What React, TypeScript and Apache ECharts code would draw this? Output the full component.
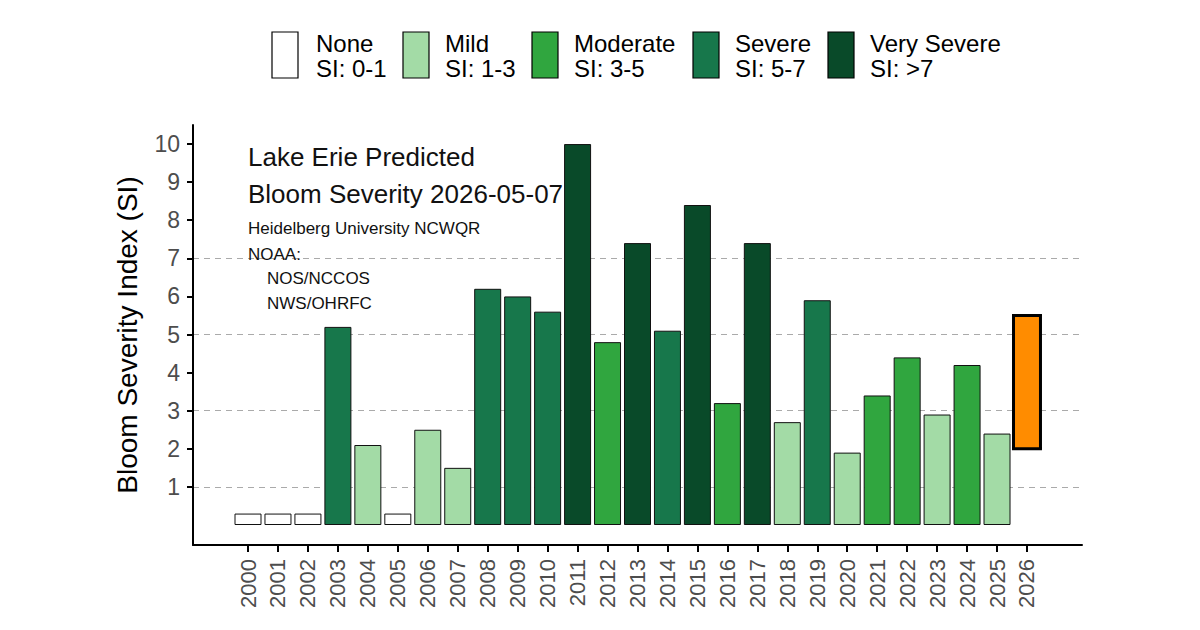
import React, { useEffect, useRef } from "react";
import * as echarts from "echarts";

const years = [2000, 2001, 2002, 2003, 2004, 2005, 2006, 2007, 2008, 2009, 2010, 2011, 2012, 2013, 2014, 2015, 2016, 2017, 2018, 2019, 2020, 2021, 2022, 2023, 2024, 2025];
const severity = [0.3, 0.3, 0.3, 5.2, 2.1, 0.3, 2.5, 1.5, 6.2, 6.0, 5.6, 10.0, 4.8, 7.4, 5.1, 8.4, 3.2, 7.4, 2.7, 5.9, 1.9, 3.4, 4.4, 2.9, 4.2, 2.4];
const forecastYear = 2026;
const forecastRange = [2.0, 5.5];
const tickYears = [...years, forecastYear];
const yTicks = [1, 2, 3, 4, 5, 6, 7, 8, 9, 10];
const dashedLevels = [1, 3, 5, 7];

const classNames = ["None", "Mild", "Moderate", "Severe", "Very Severe"];
const classRanges = ["SI: 0-1", "SI: 1-3", "SI: 3-5", "SI: 5-7", "SI: >7"];
const classUpper = [1, 3, 5, 7, Infinity];
const classColors = ["#ffffff", "#a3dba6", "#30a63f", "#17774b", "#094a29"];
const forecastColor = "#ff8c00";

const FONT = "'Liberation Sans', Arial, sans-serif";

function classOf(v: number) {
  for (let i = 0; i < classUpper.length; i++) if (v < classUpper[i]) return i;
  return classUpper.length - 1;
}

export default function App() {
  const ref = useRef<HTMLDivElement>(null);
  useEffect(() => {
    if (!ref.current) return;
    const chart = echarts.init(ref.current, undefined, { renderer: "svg" });

    const legendBoxX = [272, 403, 532, 693, 828];
    const legendTextX = [316, 445, 574, 735, 870];
    const legendGraphics: any[] = [];
    classNames.forEach((n, i) => {
      legendGraphics.push({
        type: "rect",
        shape: { x: legendBoxX[i], y: 32, width: 26, height: 46 },
        style: { fill: classColors[i], stroke: "#000", lineWidth: 1.2 },
      });
      legendGraphics.push({
        type: "text",
        x: legendTextX[i],
        y: 43,
        style: { text: n, font: `24px ${FONT}`, fill: "#000", textVerticalAlign: "middle" },
      });
      legendGraphics.push({
        type: "text",
        x: legendTextX[i],
        y: 68,
        style: { text: classRanges[i], font: `24px ${FONT}`, fill: "#000", textVerticalAlign: "middle" },
      });
    });

    const annotations = [
      { t: "Lake Erie Predicted", x: 248, y: 157, s: 26 },
      { t: "Bloom Severity 2026-05-07", x: 248, y: 194, s: 26 },
      { t: "Heidelberg University NCWQR", x: 248, y: 228, s: 17 },
      { t: "NOAA:", x: 248, y: 254, s: 17 },
      { t: "NOS/NCCOS", x: 267, y: 278, s: 17 },
      { t: "NWS/OHRFC", x: 267, y: 303, s: 17 },
    ].map((a) => ({
      type: "text",
      x: a.x,
      y: a.y,
      z: 10,
      style: { text: a.t, font: `${a.s}px ${FONT}`, fill: "#111", textVerticalAlign: "middle" },
    }));

    chart.setOption({
      animation: false,
      backgroundColor: "#ffffff",
      grid: { left: 193, right: 118, top: 125, bottom: 85 },
      xAxis: {
        type: "value",
        min: 1998.164,
        max: 2027.836,
        splitLine: { show: false },
        axisLine: { show: true, onZero: false, lineStyle: { color: "#000", width: 2 } },
        axisTick: { show: true, customValues: tickYears, length: 7, lineStyle: { color: "#000", width: 2 } },
        axisLabel: {
          customValues: tickYears,
          rotate: 90,
          margin: 14,
          color: "#4d4d4d",
          fontSize: 22,
          fontFamily: FONT,
          formatter: (v: number) => String(v),
        },
      },
      yAxis: {
        type: "value",
        min: -0.525,
        max: 10.5,
        name: "Bloom Severity Index (SI)",
        nameLocation: "middle",
        nameRotate: 90,
        nameGap: 52,
        nameTextStyle: { fontSize: 28, color: "#000", fontFamily: FONT },
        splitLine: { show: false },
        axisLine: { show: true, onZero: false, lineStyle: { color: "#000", width: 2 } },
        axisTick: { show: true, customValues: yTicks, length: 6, lineStyle: { color: "#000", width: 2 } },
        axisLabel: { customValues: yTicks, margin: 13, color: "#4d4d4d", fontSize: 23, fontFamily: FONT },
      },
      series: [
        {
          type: "bar",
          barWidth: 27,
          data: years.map((y, i) => ({
            value: [y, severity[i]],
            itemStyle: { color: classColors[classOf(severity[i])], borderColor: "#111", borderWidth: 1 },
          })),
          markLine: {
            silent: true,
            symbol: "none",
            label: { show: false },
            lineStyle: { color: "#aaaaaa", type: [6, 5], width: 1.2 },
            data: dashedLevels.map((v) => ({ yAxis: v })),
            z: 0,
          },
          z: 2,
        },
        {
          type: "custom",
          data: [[forecastYear, forecastRange[0], forecastRange[1]]],
          encode: { x: 0, y: [1, 2] },
          renderItem: (params: any, api: any) => {
            const x = api.value(0);
            const p0 = api.coord([x, api.value(1)]);
            const p1 = api.coord([x, api.value(2)]);
            const w = api.size([1, 0])[0] * 0.9;
            return {
              type: "rect",
              shape: { x: p0[0] - w / 2, y: p1[1], width: w, height: p0[1] - p1[1] },
              style: { fill: forecastColor, stroke: "#000", lineWidth: 3 },
            };
          },
          z: 3,
        },
      ],
      graphic: [...legendGraphics, ...annotations],
    });
    return () => chart.dispose();
  }, []);
  return <div ref={ref} style={{ width: 1200, height: 630, position: "absolute", left: 0, top: 0 }} />;
}
